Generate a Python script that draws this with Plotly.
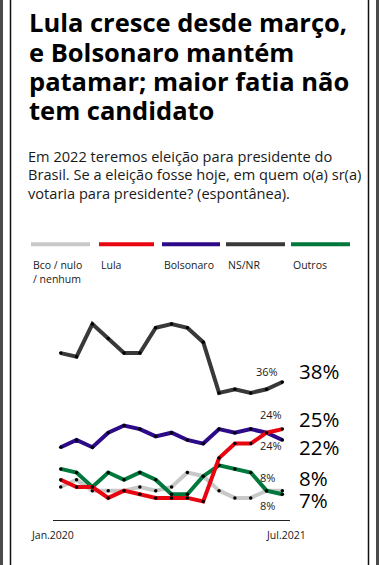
import plotly.graph_objects as go

W, H = 379, 565

# ---- data ----
periods = list(range(15))  # Jan.2020 ... Jul.2021 surveys
tick_labels = ["Jan.2020", "Jul.2021"]
series_names = ["Bco / nulo<br>/ nenhum", "Lula", "Bolsonaro", "NS/NR", "Outros"]
bco = [9, 11, 8, 8, 8, 9, 8, 9, 13, 12, 8, 6, 6, 8, 8]
lula = [11, 9, 9, 6, 8, 7, 6, 6, 6, 5, 17, 21, 21, 24, 25]
bolsonaro = [20, 22, 20, 24, 26, 25, 23, 24, 22, 21, 25, 24, 25, 24, 22]
ns_nr = [46, 45, 54, 50, 46, 46, 53, 54, 53, 49, 35, 36, 35, 36, 38]
outros = [14, 13, 9, 13, 11, 13, 11, 7, 7, 12, 15, 14, 13, 8, 7]

colors = {"bco": "#c8c8c8", "lula": "#e8050f", "bolsonaro": "#2c0a88",
          "nsnr": "#393939", "outros": "#00783c"}


def px(x):
    return x / W


def py(y):
    return 1 - y / H


fig = go.Figure()
order = [("bco", bco), ("outros", outros), ("nsnr", ns_nr),
         ("bolsonaro", bolsonaro), ("lula", lula)]
for key, vals in order:
    fig.add_trace(go.Scatter(
        x=periods, y=vals, mode="lines+markers",
        line=dict(color=colors[key], width=4),
        marker=dict(color="#000000", size=3.5),
        hoverinfo="skip", showlegend=False))

# axes: x range chosen so baseline spans full plot; y 0..60
Y0, PXPER = 519.6, 3.62
fig.update_layout(
    width=W, height=H, margin=dict(l=0, r=0, t=0, b=0),
    paper_bgcolor="white", plot_bgcolor="white",
    xaxis=dict(domain=[px(52.8), px(290.3)], range=[-0.5, 14.5],
               showgrid=False, zeroline=False, showticklabels=False,
               showline=True, linecolor="#222", linewidth=1, ticks=""),
    yaxis=dict(domain=[py(Y0), py(Y0 - 60 * PXPER)], range=[0, 60],
               showgrid=False, zeroline=False, showticklabels=False,
               showline=False),
)

ann = []
TXT = "#1a1a1a"
# title lines
title_lines = ["Lula cresce desde março,", "e Bolsonaro mantém",
               "patamar; maior fatia não", "tem candidato"]
for i, t in enumerate(title_lines):
    ann.append(dict(text=t, x=px(27), y=py(22.5 + 29.3 * i), xref="paper", yref="paper",
                    xanchor="left", yanchor="middle", showarrow=False,
                    font=dict(family="Open Sans", size=25.5, color="#000000", weight="bold")))
sub_lines = ["Em 2022 teremos eleição para presidente do",
             "Brasil. Se a eleição fosse hoje, em quem o(a) sr(a)",
             "votaria para presidente? (espontânea)."]
for i, t in enumerate(sub_lines):
    ann.append(dict(text=t, x=px(26), y=py(156 + 18.3 * i), xref="paper", yref="paper",
                    xanchor="left", yanchor="middle", showarrow=False,
                    font=dict(family="Open Sans", size=14.6, color=TXT)))

# legend
leg_keys = ["bco", "lula", "bolsonaro", "nsnr", "outros"]
leg_x = [(31, 90), (99, 154), (162, 220), (226, 285), (291, 350)]
shapes = []
for k, (a, b), name in zip(leg_keys, leg_x, series_names):
    shapes.append(dict(type="line", xref="paper", yref="paper", x0=px(a), x1=px(b),
                       y0=py(244.3), y1=py(244.3),
                       line=dict(color=colors[k], width=4)))
    ann.append(dict(text=name, x=px(a), y=py(256), xref="paper", yref="paper",
                    xanchor="left", yanchor="top", align="left", showarrow=False,
                    font=dict(family="Open Sans", size=10.5, color=TXT)))

# axis labels
ann.append(dict(text=tick_labels[0], x=px(29), y=py(534.6), xref="paper", yref="paper",
                xanchor="left", yanchor="middle", showarrow=False,
                font=dict(family="Open Sans", size=10.5, color=TXT)))
ann.append(dict(text=tick_labels[1], x=px(308), y=py(534.6), xref="paper", yref="paper",
                xanchor="right", yanchor="middle", showarrow=False,
                font=dict(family="Open Sans", size=10.5, color=TXT)))

# end labels (big)
big = [(ns_nr[-1], 11.3), (lula[-1], 9.8), (bolsonaro[-1], -6.7),
       (bco[-1], 12.3), (outros[-1], -5.7)]
for v, sh in big:
    ann.append(dict(text=f"{v}%", x=px(297), y=v, xref="paper", yref="y",
                    xanchor="left", yanchor="middle", yshift=sh, showarrow=False,
                    font=dict(family="Open Sans", size=20.5, color="#000000")))

# small labels at the previous survey
small = [(ns_nr[-2], 17.6, 0), (bolsonaro[-2], 18.7, 4), (lula[-2], -12.3, 4),
         (outros[-2], 13.3, 1), (bco[-2], -14.4, 1)]
for v, sh, xs in small:
    ann.append(dict(text=f"{v}%", x=periods[-2], y=v, xref="x", yref="y",
                    xanchor="center", yanchor="middle", yshift=sh, xshift=xs,
                    showarrow=False,
                    font=dict(family="Open Sans", size=11, color=TXT)))

# page frame
shapes += [
    dict(type="rect", xref="paper", yref="paper", x0=0, x1=px(3), y0=0, y1=1,
         fillcolor="#4a4a4a", line=dict(width=0)),
    dict(type="rect", xref="paper", yref="paper", x0=px(376), x1=1, y0=0, y1=1,
         fillcolor="#4a4a4a", line=dict(width=0)),
    dict(type="line", xref="paper", yref="paper", x0=px(10.5), x1=px(10.5), y0=0, y1=1,
         line=dict(color="#111", width=1.5)),
    dict(type="line", xref="paper", yref="paper", x0=px(368.5), x1=px(368.5), y0=0, y1=1,
         line=dict(color="#111", width=1.5)),
]

fig.update_layout(annotations=ann, shapes=shapes)
fig.write_html("out.html", config={"displayModeBar": False},
               post_script="document.body.style.margin='0px';")
